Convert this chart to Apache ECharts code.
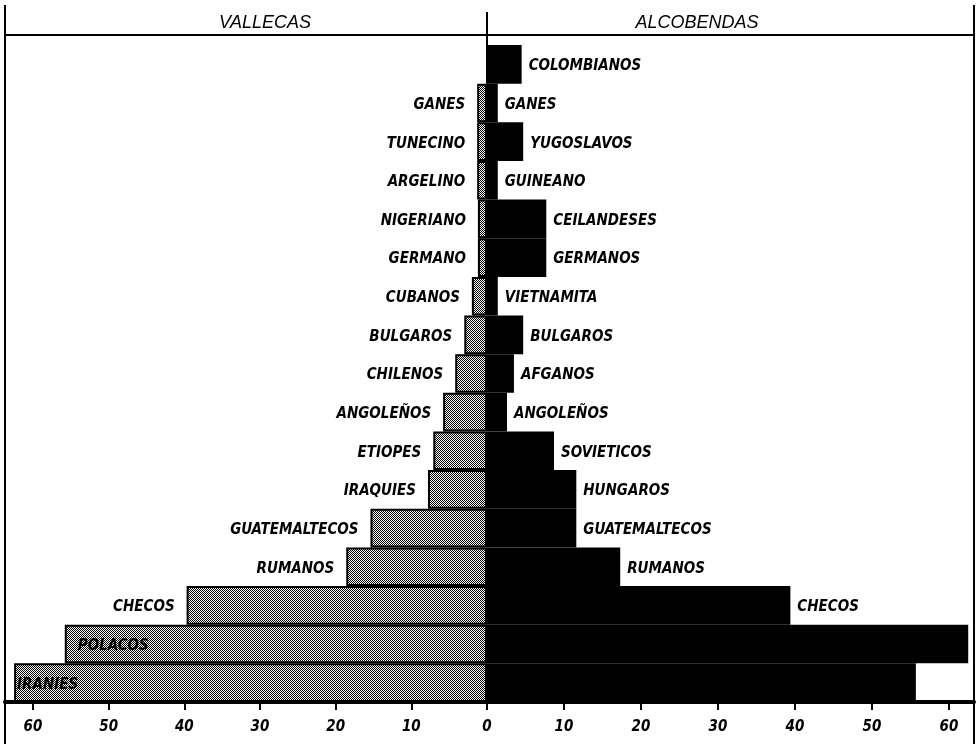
<!DOCTYPE html>
<html>
<head>
<meta charset="utf-8">
<script src="https://cdn.jsdelivr.net/npm/echarts@6.0.0/dist/echarts.min.js"></script>
<style>
  html, body { margin: 0; padding: 0; background: #fff; }
  #chart { width: 980px; height: 744px; }
</style>
</head>
<body>
<div id="chart"></div>
<script>
// ---- data ----
const vallecasNames = ['', 'GANES', 'TUNECINO', 'ARGELINO', 'NIGERIANO', 'GERMANO', 'CUBANOS', 'BULGAROS', 'CHILENOS', 'ANGOLEÑOS', 'ETIOPES', 'IRAQUIES', 'GUATEMALTECOS', 'RUMANOS', 'CHECOS', 'POLACOS', 'IRANIES'];
const vallecasValues = [0, 1.3, 1.3, 1.3, 1.2, 1.2, 2.0, 3.0, 4.2, 5.8, 7.1, 7.8, 15.4, 18.6, 39.7, 55.8, 62.5];
const alcobendasNames = ['COLOMBIANOS', 'GANES', 'YUGOSLAVOS', 'GUINEANO', 'CEILANDESES', 'GERMANOS', 'VIETNAMITA', 'BULGAROS', 'AFGANOS', 'ANGOLEÑOS', 'SOVIETICOS', 'HUNGAROS', 'GUATEMALTECOS', 'RUMANOS', 'CHECOS', '', ''];
const alcobendasValues = [4.5, 1.4, 4.7, 1.4, 7.7, 7.7, 1.4, 4.7, 3.5, 2.6, 8.7, 11.6, 11.6, 17.3, 39.4, 62.5, 55.7];
const tickValues = [0, 10, 20, 30, 40, 50, 60];
const leftTitle = 'VALLECAS';
const rightTitle = 'ALCOBENDAS';

// ---- styles ----
const FONT = "'Liberation Sans Narrow', 'DejaVu Sans Condensed', sans-serif";
const rows = vallecasValues.map((_, i) => String(i));

const pat = document.createElement('canvas');
pat.width = 2; pat.height = 2;
const pc = pat.getContext('2d');
pc.fillStyle = '#fff'; pc.fillRect(0, 0, 2, 2);
pc.fillStyle = '#000'; pc.fillRect(0, 0, 1, 1); pc.fillRect(1, 1, 1, 1);

const labelStyle = {
  fontFamily: FONT, fontSize: 15, fontStyle: 'italic', fontWeight: 'bold', color: '#000'
};

const leftData = vallecasValues.map((v, i) => {
  const item = { value: v };
  if (i >= vallecasValues.length - 2) {
    item.label = { position: 'insideLeft', distance: i === vallecasValues.length - 1 ? 3 : 13 };
  }
  return item;
});

const chart = echarts.init(document.getElementById('chart'), null, { renderer: 'canvas' });

const xAxisCommon = {
  type: 'value',
  min: 0,
  interval: 10,
  splitLine: { show: false },
  axisLine: { show: true, lineStyle: { color: '#000', width: 4 } },
  axisTick: { show: true, length: 8, lineStyle: { color: '#000', width: 2 }, customValues: tickValues },
  axisLabel: {
    margin: 18, fontFamily: FONT, fontSize: 15, fontStyle: 'italic', fontWeight: 'bold', color: '#000'
  }
};

chart.setOption({
  animation: false,
  backgroundColor: '#fff',
  grid: [
    { left: 5, top: 45, width: 482, bottom: 42, containLabel: false },
    { left: 487, top: 45, width: 487, bottom: 42, containLabel: false }
  ],
  xAxis: [
    Object.assign({}, xAxisCommon, {
      gridIndex: 0, inverse: true, max: 63.7,
      axisLabel: Object.assign({}, xAxisCommon.axisLabel, { customValues: tickValues })
    }),
    Object.assign({}, xAxisCommon, {
      gridIndex: 1, max: 63.25,
      axisLabel: Object.assign({}, xAxisCommon.axisLabel, { customValues: tickValues.filter(v => v !== 0) })
    })
  ],
  yAxis: [
    { type: 'category', gridIndex: 0, data: rows, inverse: true, show: false },
    { type: 'category', gridIndex: 1, data: rows, inverse: true, show: false }
  ],
  series: [
    {
      type: 'bar', name: leftTitle, xAxisIndex: 0, yAxisIndex: 0,
      data: leftData,
      barCategoryGap: 0,
      itemStyle: { color: { image: pat, repeat: 'repeat' }, borderColor: '#000', borderWidth: 2 },
      label: Object.assign({
        show: true, position: 'left', distance: 12, offset: [0, 2],
        formatter: p => vallecasNames[p.dataIndex]
      }, labelStyle)
    },
    {
      type: 'bar', name: rightTitle, xAxisIndex: 1, yAxisIndex: 1,
      data: alcobendasValues,
      barCategoryGap: 0,
      itemStyle: { color: '#000' },
      label: Object.assign({
        show: true, position: 'right', distance: 7, offset: [0, 2],
        formatter: p => alcobendasNames[p.dataIndex]
      }, labelStyle)
    }
  ],
  graphic: [
    { type: 'line', shape: { x1: 5, y1: 35, x2: 974, y2: 35 }, style: { stroke: '#000', lineWidth: 2 }, z: 10 },
    { type: 'line', shape: { x1: 5, y1: 5, x2: 5, y2: 744 }, style: { stroke: '#000', lineWidth: 2 }, z: 10 },
    { type: 'line', shape: { x1: 974, y1: 5, x2: 974, y2: 744 }, style: { stroke: '#000', lineWidth: 2 }, z: 10 },
    { type: 'line', shape: { x1: 487, y1: 12, x2: 487, y2: 50 }, style: { stroke: '#000', lineWidth: 2 }, z: 10 },
    {
      type: 'text', x: 265, y: 23, z: 10,
      style: {
        text: leftTitle, fill: '#000', align: 'center', verticalAlign: 'middle',
        font: "italic 18px 'Liberation Sans', sans-serif"
      }
    },
    {
      type: 'text', x: 697, y: 23, z: 10,
      style: {
        text: rightTitle, fill: '#000', align: 'center', verticalAlign: 'middle',
        font: "italic 18px 'Liberation Sans', sans-serif"
      }
    }
  ]
});
</script>
</body>
</html>
